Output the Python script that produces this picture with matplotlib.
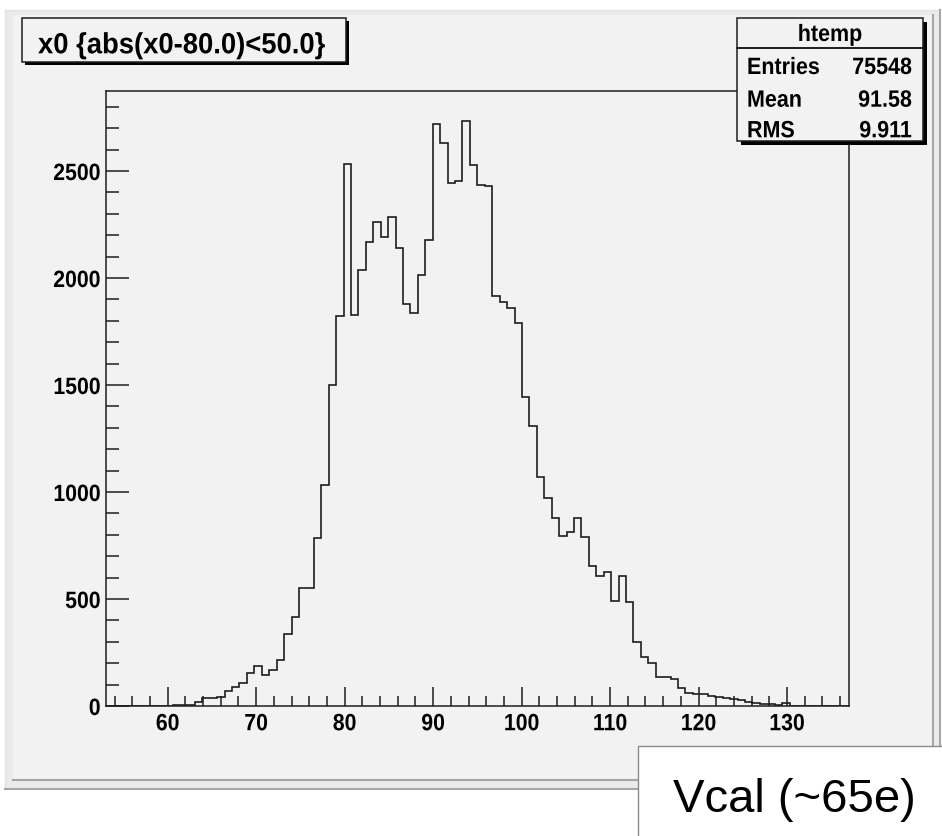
import numpy as np
import matplotlib
matplotlib.use("Agg")
import matplotlib.pyplot as plt
from matplotlib.patches import Rectangle
from matplotlib.lines import Line2D
from matplotlib.ticker import MultipleLocator, FixedLocator
from matplotlib.patheffects import AbstractPathEffect
from matplotlib.transforms import Affine2D

# ---- histogram contents (100 bins over [53, 137]) ----
counts = [
    0, 0, 0, 0, 0, 0, 0, 0, 0, 5,
    6, 7, 20, 37, 38, 44, 72, 88, 106, 155,
    186, 147, 169, 216, 336, 417, 553, 553, 786, 1033,
    1500, 1823, 2535, 1829, 2037, 2170, 2261, 2193, 2284, 2140,
    1880, 1837, 2015, 2179, 2721, 2633, 2444, 2454, 2735, 2526,
    2437, 2430, 1918, 1890, 1861, 1791, 1442, 1307, 1069, 970,
    880, 796, 813, 880, 790, 656, 609, 628, 491, 609,
    484, 298, 231, 199, 134, 134, 126, 83, 59, 57,
    54, 47, 44, 36, 31, 26, 17, 12, 10, 10,
    5, 12, 0, 0, 0, 0, 0, 0, 0, 0,
]
x_min, x_max = 53.0, 137.0
y_max = 2874
x_major = [60, 70, 80, 90, 100, 110, 120, 130]
y_major = [0, 500, 1000, 1500, 2000, 2500]

title_text = "x0 {abs(x0-80.0)<50.0}"
stats_name = "htemp"
stats_labels = ["Entries", "Mean", "RMS"]
stats_values = ["75548", "91.58", "9.911"]
note_text = "Vcal (~65e)"

W, H = 942, 836
label_font = "Liberation Sans"
canvas_bg = "#f2f2f2"
ink = "#1e1e1e"


class Squeeze(AbstractPathEffect):
    """Draw text glyphs compressed horizontally (a narrow-font look)."""

    def __init__(self, sx, anchor="left"):
        super().__init__()
        self.sx = sx
        self.anchor = anchor

    def draw_path(self, renderer, gc, tpath, affine, rgbFace=None):
        ext = tpath.get_extents()
        if self.anchor == "center":
            pivot = (ext.x0 + ext.x1) / 2
        elif self.anchor == "right":
            pivot = ext.x1
        else:
            pivot = 0.0
        sq = Affine2D().translate(-pivot, 0).scale(self.sx, 1).translate(pivot, 0)
        renderer.draw_path(gc, tpath, sq + affine, rgbFace)


def fx(x):
    return x / W


def fy(y):
    return 1 - y / H


fig = plt.figure(figsize=(W / 100, H / 100), dpi=100)
fig.patch.set_facecolor("white")


def rect(x0, y0, x1, y1, **kw):
    r = Rectangle((fx(x0), fy(y1)), fx(x1) - fx(x0), fy(y0) - fy(y1),
                  transform=fig.transFigure, **kw)
    fig.patches.append(r)
    return r


def hline(x0, x1, y, color, lw, z):
    fig.lines.append(Line2D([fx(x0), fx(x1)], [fy(y), fy(y)],
                            transform=fig.transFigure, color=color, lw=lw, zorder=z))


def vline(x, y0, y1, color, lw, z):
    fig.lines.append(Line2D([fx(x), fx(x)], [fy(y0), fy(y1)],
                            transform=fig.transFigure, color=color, lw=lw, zorder=z))


# canvas with bevelled border
rect(5, 10, 940, 789, facecolor="#ebebeb", edgecolor="none", zorder=-5)
rect(13, 15, 933, 780, facecolor=canvas_bg, edgecolor="none", zorder=-4)
hline(5, 940, 10, "#e2e2e2", 1.0, -3)
vline(5, 10, 789, "#e2e2e2", 1.0, -3)
hline(5, 940, 789, "#a6a6a6", 1.5, -3)
vline(940, 10, 789, "#a6a6a6", 1.5, -3)
hline(13, 933, 780, "#a6a6a6", 1.5, -3)
vline(933, 15, 780, "#a6a6a6", 1.5, -3)

# plotting frame
ax_l, ax_r, ax_t, ax_b = 105.7, 849.0, 91.0, 706.0
ax = fig.add_axes([fx(ax_l), fy(ax_b), fx(ax_r) - fx(ax_l), fy(ax_t) - fy(ax_b)])
ax.set_facecolor(canvas_bg)

edges = np.linspace(x_min, x_max, len(counts) + 1)
ax.stairs(counts, edges, color=ink, lw=1.2, baseline=0)

ax.set_xlim(x_min, x_max)
ax.set_ylim(0, y_max)
ax.xaxis.set_major_locator(FixedLocator(x_major))
ax.xaxis.set_minor_locator(MultipleLocator(2))
ax.yaxis.set_major_locator(FixedLocator(y_major))
ax.yaxis.set_minor_locator(MultipleLocator(100))
ax.tick_params(axis="x", which="major", direction="in", length=13.7, width=1.1,
               color=ink, pad=4.5, labelsize=17)
ax.tick_params(axis="x", which="minor", direction="in", length=7.2, width=1.1, color=ink)
ax.tick_params(axis="y", which="major", direction="in", length=16.3, width=1.1,
               color=ink, pad=3.6, labelsize=17)
ax.tick_params(axis="y", which="minor", direction="in", length=9.1, width=1.1, color=ink)
ax.tick_params(top=False, right=False, which="both")
for lab in ax.get_xticklabels():
    lab.set_fontfamily(label_font)
    lab.set_fontweight("bold")
    lab.set_color("black")
    lab.set_path_effects([Squeeze(0.9, "center")])
for lab in ax.get_yticklabels():
    lab.set_fontfamily(label_font)
    lab.set_fontweight("bold")
    lab.set_color("black")
    lab.set_path_effects([Squeeze(0.9, "right")])
for sp in ax.spines.values():
    sp.set_color(ink)
    sp.set_linewidth(1.1)

# title box with shadow
rect(25, 21, 349, 65, facecolor="black", edgecolor="none", zorder=5)
rect(22, 18, 346, 62, facecolor=canvas_bg, edgecolor=ink, lw=1.1, zorder=6)
fig.text(fx(38), fy(53.3), title_text, fontsize=21, fontfamily=label_font,
         fontweight="bold", ha="left", va="baseline", zorder=7,
         path_effects=[Squeeze(0.94, "left")])

# statistics box with shadow
stats_fs = 17
rect(741, 22, 927, 145, facecolor="black", edgecolor="none", zorder=5)
rect(737, 18, 923, 141, facecolor=canvas_bg, edgecolor=ink, lw=1.1, zorder=6)
hline(737, 923, 48.3, ink, 1.4, 7)
fig.text(fx(830), fy(41), stats_name, fontsize=stats_fs, fontfamily=label_font,
         fontweight="bold", ha="center", va="baseline", zorder=7,
         path_effects=[Squeeze(0.91, "center")])
for lab, val, base in zip(stats_labels, stats_values, [74, 106.7, 137.3]):
    fig.text(fx(747), fy(base), lab, fontsize=stats_fs, fontfamily=label_font,
             fontweight="bold", ha="left", va="baseline", zorder=7,
             path_effects=[Squeeze(0.91, "left")])
    fig.text(fx(912), fy(base), val, fontsize=stats_fs, fontfamily=label_font,
             fontweight="bold", ha="right", va="baseline", zorder=7,
             path_effects=[Squeeze(0.91, "right")])

# unit note in the lower right corner
rect(638, 746, 960, 860, facecolor="white", edgecolor="#8c8c8c", lw=1.0, zorder=8)
fig.text(fx(673), fy(811.7), note_text, fontsize=34, fontfamily="Liberation Sans",
         ha="left", va="baseline", zorder=9)

fig.savefig("out.png", dpi=100, facecolor="white")
